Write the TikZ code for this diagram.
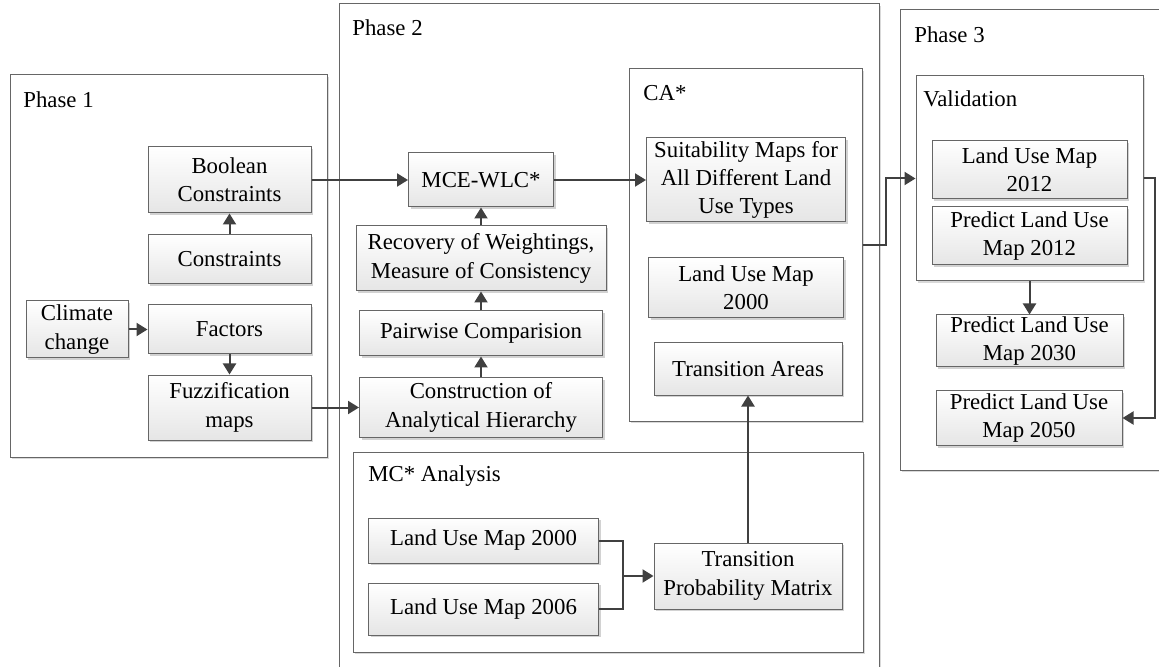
\documentclass[tikz,border=0pt]{standalone}
\usepackage{fontspec}
\setmainfont{Liberation Serif}
\usetikzlibrary{arrows.meta,shadows}

\begin{document}
\begin{tikzpicture}[
  x=0.5pt, y=-0.5pt,
  every node/.style={font=\fontsize{11.4}{14.2}\selectfont},
  box/.style={draw=gray!80!black, line width=0.5pt, align=center, inner sep=0pt,
              top color=white, bottom color=gray!20,
              drop shadow={shadow xshift=1.2pt, shadow yshift=-1.2pt, fill=gray!35, opacity=1}},
  grp/.style={draw=gray!80!black, line width=0.5pt, fill=white, inner sep=0pt,
              drop shadow={shadow xshift=1.2pt, shadow yshift=-1.2pt, fill=gray!30, opacity=1}},
  lbl/.style={anchor=west, inner sep=0pt},
  arr/.style={-{Triangle[length=5.5pt,width=6.5pt]}, line width=1pt, draw=black!75},
  link/.style={line width=1pt, draw=black!75}]
\useasboundingbox (0,0) rectangle (1159,667);

\node[grp, minimum width=158.5pt, minimum height=191pt] (ph1) at (168.5,266) {};
\node[grp, minimum width=270pt, minimum height=338pt] (ph2) at (609,342) {};
\node[grp, minimum width=132.5pt, minimum height=230pt] (ph3) at (1032.5,240) {};
\node[grp, minimum width=116.5pt, minimum height=176pt] (ca) at (745.5,245) {};
\node[grp, minimum width=255pt, minimum height=100pt] (mc) at (608,552) {};
\node[grp, minimum width=113.5pt, minimum height=102.5pt] (val) at (1029.5,178.5) {};

\node[lbl] (ph1lbl) at (23,100) {Phase 1};
\node[lbl] (ph2lbl) at (352,28) {Phase 2};
\node[lbl] (ph3lbl) at (914,35) {Phase 3};
\node[lbl] (calbl) at (643,93) {CA*};
\node[lbl] (mclbl) at (368,476) {MC* Analysis};
\node[lbl] (vallbl) at (923,99) {Validation};

\node[box, minimum width=81.5pt, minimum height=33pt] (bool) at (229.5,180) {Boolean\\Constraints};
\node[box, minimum width=81.5pt, minimum height=24.5pt] (cons) at (229.5,259.5) {Constraints};
\node[box, minimum width=51pt, minimum height=28.5pt] (clim) at (77,329.5) {Climate\\change};
\node[box, minimum width=81.5pt, minimum height=24.5pt] (fact) at (229.5,329.5) {Factors};
\node[box, minimum width=81.5pt, minimum height=32.5pt] (fuzz) at (229.5,407.5) {Fuzzification\\maps};

\node[box, minimum width=72.5pt, minimum height=27pt] (mce) at (481,180) {MCE-WLC*};
\node[box, minimum width=125pt, minimum height=32.5pt] (recov) at (481,258.5) {Recovery of Weightings,\\Measure of Consistency};
\node[box, minimum width=121.5pt, minimum height=22.5pt] (pair) at (481,333.5) {Pairwise Comparision};
\node[box, minimum width=121.5pt, minimum height=30pt] (constr) at (481,407.5) {Construction of\\Analytical Hierarchy};

\node[box, minimum width=99.5pt, minimum height=42pt] (suit) at (746,180) {Suitability Maps for\\All Different Land\\Use Types};
\node[box, minimum width=97.5pt, minimum height=30pt] (lumca) at (746,288) {Land Use Map\\2000};
\node[box, minimum width=94pt, minimum height=26pt] (trans) at (748,369) {Transition Areas};

\node[box, minimum width=115pt, minimum height=22.5pt] (lum00) at (483.5,540.5) {Land Use Map 2000};
\node[box, minimum width=115pt, minimum height=26pt] (lum06) at (483.5,609) {Land Use Map 2006};
\node[box, minimum width=94pt, minimum height=33pt] (tpm) at (748,576) {Transition\\Probability Matrix};
\coordinate (mrg) at (623,576);

\node[box, minimum width=97.5pt, minimum height=29pt] (lum12) at (1029.5,169.5) {Land Use Map\\2012};
\node[box, minimum width=97.5pt, minimum height=29pt] (pred12) at (1029.5,236) {Predict Land Use\\Map 2012};
\node[box, minimum width=93.5pt, minimum height=26pt] (pred30) at (1029.5,341) {Predict Land Use\\Map 2030};
\node[box, minimum width=93pt, minimum height=27.5pt] (pred50) at (1029,418) {Predict Land Use\\Map 2050};

\draw[arr] (cons) -- (bool);
\draw[arr] (clim) -- (fact);
\draw[arr] (fact) -- (fuzz);
\draw[arr] (bool) -- (mce);
\draw[arr] (fuzz) -- (constr);
\draw[arr] (constr) -- (pair);
\draw[arr] (pair) -- (recov);
\draw[arr] (recov) -- (mce);
\draw[arr] (mce) -- (suit);
\draw[link] (lum00.east) -| (mrg);
\draw[link] (lum06.east) -| (mrg);
\draw[arr] (mrg) -- (tpm);
\draw[arr] (tpm) -- (trans);
\draw[arr] (ca.east) -- ++(23,0) |- (val.west);
\draw[arr] (val) -- (pred30);
\draw[arr] (val.east) -- ++(11,0) |- (pred50.east);
\end{tikzpicture}
\end{document}
